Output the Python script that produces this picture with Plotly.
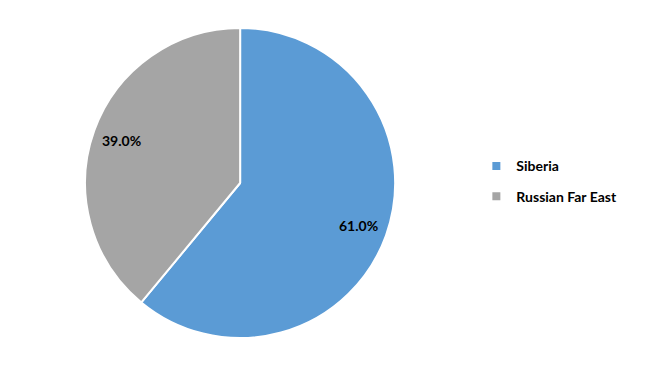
import math
import plotly.graph_objects as go

labels = ["Siberia", "Russian Far East"]
values = [61.0, 39.0]
colors = ["#5B9BD5", "#A5A5A5"]

W, H = 649, 368
dom_x = [0.131, 0.609]
dom_y = [0.0815, 0.924]

fig = go.Figure()
fig.add_trace(go.Pie(
    labels=labels,
    values=values,
    sort=False,
    direction="clockwise",
    rotation=0,
    marker=dict(colors=colors, line=dict(color="white", width=2)),
    textinfo="none",
    domain=dict(x=dom_x, y=dom_y),
    showlegend=False,
    hoverinfo="label+percent",
))

# legend entries (small square markers, like the reference)
for lab, col in zip(labels, colors):
    fig.add_trace(go.Scatter(
        x=[None], y=[None], mode="markers", name=lab, legendgroup=lab,
        marker=dict(symbol="square", size=8, color=col),
    ))

# data labels placed along each slice's mid-angle
cx = (dom_x[0] + dom_x[1]) / 2 * W
cy = (dom_y[0] + dom_y[1]) / 2 * H
r = min((dom_x[1] - dom_x[0]) * W, (dom_y[1] - dom_y[0]) * H) / 2
total = sum(values)
cum = 0.0
for v in values:
    mid = (cum + v / 2) / total * 2 * math.pi
    cum += v
    px = cx + 0.81 * r * math.sin(mid)
    py = cy + 0.81 * r * math.cos(mid)
    fig.add_annotation(
        x=px / W, y=py / H, xref="paper", yref="paper",
        xanchor="center", yanchor="middle",
        text=f"{v:.1f}%", showarrow=False,
        font=dict(family="Lato", size=14, color="black", weight="bold"),
    )

fig.update_layout(
    width=W, height=H,
    margin=dict(l=0, r=0, t=0, b=0),
    paper_bgcolor="white",
    plot_bgcolor="white",
    xaxis=dict(visible=False),
    yaxis=dict(visible=False),
    legend=dict(
        x=0.734, y=0.507, xanchor="left", yanchor="middle",
        font=dict(family="Lato", size=14, color="black", weight="bold"),
        itemwidth=30, tracegroupgap=9,
    ),
)

fig.write_html("out.html")
